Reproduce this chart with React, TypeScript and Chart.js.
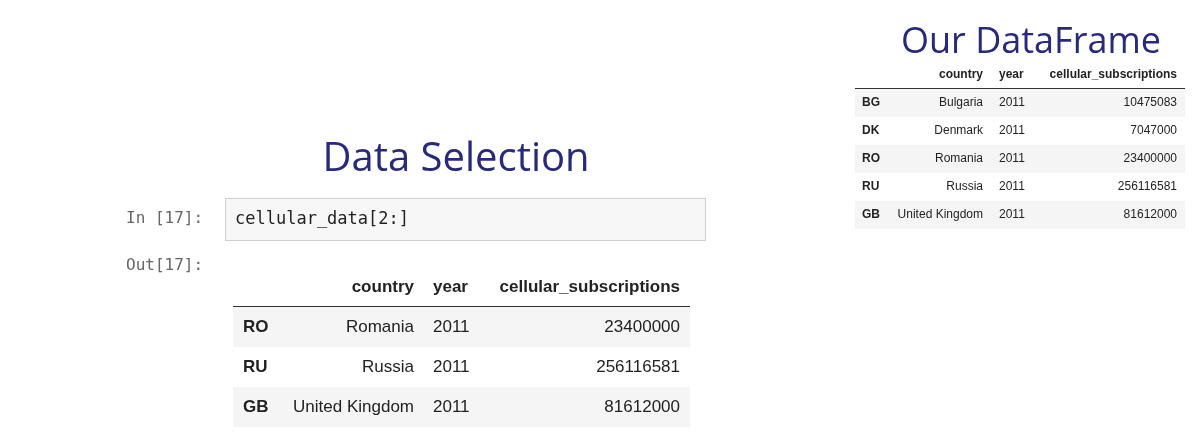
import { Chart, registerables } from 'chart.js';
import { useEffect, useRef } from 'react';

Chart.register(...registerables);

const columns = ['country', 'year', 'cellular_subscriptions'];
const codes = ['BG', 'DK', 'RO', 'RU', 'GB'];
const countries = ['Bulgaria', 'Denmark', 'Romania', 'Russia', 'United Kingdom'];
const years = [2011, 2011, 2011, 2011, 2011];
const subscriptions = [10475083, 7047000, 23400000, 256116581, 81612000];
const selectionStart = 2;

const NAVY = '#27297a';

function drawTable(ctx: CanvasRenderingContext2D, o: {
    x0: number, x1: number, top: number, headH: number, rowH: number, font: number,
    idxX: number, countryR: number, yearX: number, subsR: number, rows: number[]
}) {
    ctx.textBaseline = 'middle';
    ctx.font = `bold ${o.font}px Arial, "Liberation Sans"`;
    ctx.fillStyle = '#222';
    const hy = o.top + o.headH / 2;
    ctx.textAlign = 'right';
    ctx.fillText(columns[0], o.countryR, hy);
    ctx.fillText(columns[2], o.subsR, hy);
    ctx.textAlign = 'left';
    ctx.fillText(columns[1], o.yearX, hy);
    ctx.strokeStyle = '#333';
    ctx.lineWidth = 1;
    ctx.beginPath();
    ctx.moveTo(o.x0, o.top + o.headH + 0.5);
    ctx.lineTo(o.x1, o.top + o.headH + 0.5);
    ctx.stroke();
    o.rows.forEach((r, i) => {
        const y = o.top + o.headH + 1 + i * o.rowH;
        if (i % 2 === 0) {
            ctx.fillStyle = '#f5f5f5';
            ctx.fillRect(o.x0, y, o.x1 - o.x0, o.rowH);
        }
        const cy = y + o.rowH / 2;
        ctx.fillStyle = '#222';
        ctx.font = `bold ${o.font}px Arial, "Liberation Sans"`;
        ctx.textAlign = 'left';
        ctx.fillText(codes[r], o.idxX, cy);
        ctx.font = `${o.font}px Arial, "Liberation Sans"`;
        ctx.fillText(String(years[r]), o.yearX, cy);
        ctx.textAlign = 'right';
        ctx.fillText(countries[r], o.countryR, cy);
        ctx.fillText(String(subscriptions[r]), o.subsR, cy);
    });
}

const slidePlugin = {
    id: 'slide',
    afterDraw(chart: Chart) {
        const ctx = chart.ctx;
        ctx.save();
        ctx.fillStyle = NAVY;
        ctx.textBaseline = 'alphabetic';
        ctx.textAlign = 'left';
        ctx.font = '36px "Open Sans", "Noto Sans"';
        ctx.fillText('Our DataFrame', 901, 53);
        ctx.textAlign = 'center';
        ctx.font = '40px "Open Sans", "Noto Sans"';
        ctx.fillText('Data Selection', 456, 171);

        drawTable(ctx, {
            x0: 855, x1: 1185, top: 61, headH: 27, rowH: 28, font: 12,
            idxX: 862, countryR: 983, yearX: 999, subsR: 1177,
            rows: codes.map((_, i) => i)
        });

        ctx.font = '16px "DejaVu Sans Mono", monospace';
        ctx.fillStyle = '#666';
        ctx.textAlign = 'left';
        ctx.textBaseline = 'middle';
        ctx.fillText('In [17]:', 126, 219);
        ctx.fillText('Out[17]:', 126, 266);
        ctx.fillStyle = '#f7f7f7';
        ctx.fillRect(225, 198, 480, 42);
        ctx.strokeStyle = '#cfcfcf';
        ctx.strokeRect(225.5, 198.5, 480, 42);
        ctx.fillStyle = '#222';
        ctx.font = '17px "DejaVu Sans Mono", monospace';
        ctx.fillText('cellular_data[2:]', 235, 220);

        drawTable(ctx, {
            x0: 233, x1: 690, top: 268, headH: 38, rowH: 40, font: 17,
            idxX: 243, countryR: 414, yearX: 433, subsR: 680,
            rows: codes.map((_, i) => i).slice(selectionStart)
        });
        ctx.restore();
    }
};

function Slide() {
    const canvasRef = useRef<HTMLCanvasElement>(null);
    const chartRef = useRef<Chart | null>(null);

    useEffect(() => {
        if (!canvasRef.current) return;
        chartRef.current?.destroy();
        chartRef.current = new Chart(canvasRef.current, {
            type: 'bar',
            data: { labels: [], datasets: [] },
            options: {
                animation: false,
                responsive: false,
                devicePixelRatio: 1,
                plugins: { legend: { display: false }, tooltip: { enabled: false } },
                scales: { x: { display: false }, y: { display: false } }
            },
            plugins: [slidePlugin]
        });
        return () => {
            chartRef.current?.destroy();
            chartRef.current = null;
        };
    }, []);

    return <canvas ref={canvasRef} width={1200} height={434} style={{ display: 'block' }} />;
}

export default function App() {
    document.body.style.margin = '0';
    return <div style={{ width: 1200, height: 434, background: '#fff' }}><Slide /></div>;
}
